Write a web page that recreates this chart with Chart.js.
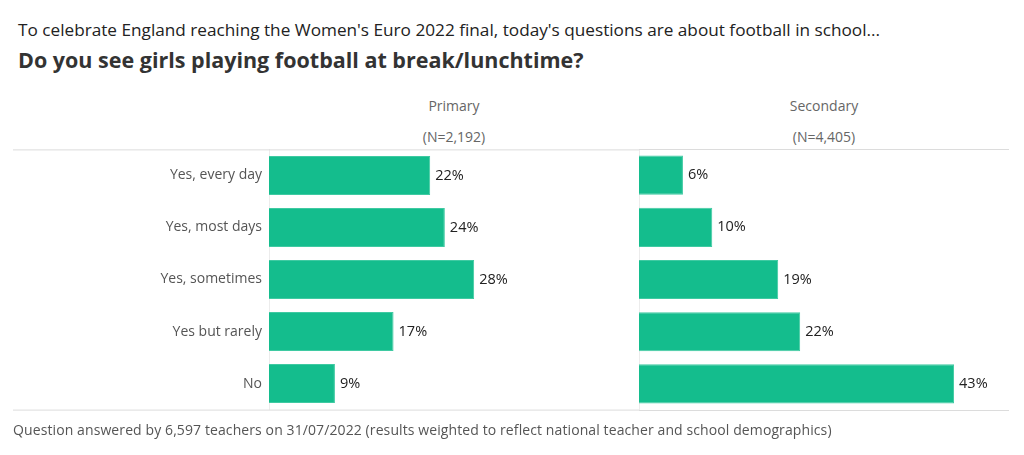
<!DOCTYPE html>
<html>
<head>
<meta charset="utf-8">
<script src="https://cdn.jsdelivr.net/npm/chart.js@4.4.1/dist/chart.umd.min.js"></script>
<style>
  body { margin: 0; background: #fff; font-family: "Open Sans", sans-serif; }
  #wrap { position: relative; width: 1024px; height: 455px; overflow: hidden; }
  .txt { position: absolute; white-space: nowrap; }
  #t1 { left: 18px; top: 18px; font-size: 17.2px; color: #222; }
  #t2 { left: 18px; top: 45px; font-size: 21.5px; font-weight: bold; color: #333; }
  .hdr { font-size: 14px; color: #666; transform: translateX(-50%); }
  #foot { left: 13px; top: 420px; font-size: 14px; color: #555; letter-spacing: 0.1px; }
  canvas { position: absolute; }
</style>
</head>
<body>
<div id="wrap">
  <div class="txt" id="t1">To celebrate England reaching the Women's Euro 2022 final, today's questions are about football in school...</div>
  <div class="txt" id="t2">Do you see girls playing football at break/lunchtime?</div>
  <div class="txt hdr" style="left:454px; top:96px;">Primary</div>
  <div class="txt hdr" style="left:454px; top:127px;">(N=2,192)</div>
  <div class="txt hdr" style="left:824px; top:96px;">Secondary</div>
  <div class="txt hdr" style="left:824px; top:127px;">(N=4,405)</div>
  <canvas id="primary" style="left:13px; top:134px;"></canvas>
  <canvas id="secondary" style="left:639px; top:145px;"></canvas>
  <div class="txt" id="foot">Question answered by 6,597 teachers on 31/07/2022 (results weighted to reflect national teacher and school demographics)</div>
</div>
<script>
const answers = ['Yes, every day', 'Yes, most days', 'Yes, sometimes', 'Yes but rarely', 'No'];
const primaryPct = [22, 24, 28, 17, 9];
const secondaryPct = [6, 10, 19, 22, 43];

const barColor = '#14bd8d';
const lineColor = '#dcdcdc';

// value labels at bar ends + horizontal rules at top/bottom of plot
const endLabels = {
    id: 'endLabels',
    afterDatasetsDraw(chart) {
        const ctx = chart.ctx;
        const meta = chart.getDatasetMeta(0);
        ctx.save();
        ctx.font = '14.5px "Open Sans", sans-serif';
        ctx.fillStyle = '#222';
        ctx.textBaseline = 'middle';
        meta.data.forEach((bar, i) => {
            ctx.fillText(chart.data.datasets[0].data[i] + '%', bar.x + 5, bar.y);
        });
        const a = chart.chartArea;
        ctx.strokeStyle = lineColor;
        ctx.lineWidth = 1;
        ctx.beginPath();
        ctx.moveTo(0, a.top + 0.5);
        ctx.lineTo(chart.width, a.top + 0.5);
        ctx.moveTo(0, a.bottom + 0.5);
        ctx.lineTo(chart.width, a.bottom + 0.5);
        ctx.stroke();
        ctx.restore();
    }
};

function makeChart(id, values, width, height, labelWidth) {
    const cv = document.getElementById(id);
    cv.width = width;
    cv.height = height;
    return new Chart(cv.getContext('2d'), {
        type: 'bar',
        data: {
            labels: answers,
            datasets: [{
                data: values,
                backgroundColor: barColor,
                borderColor: '#3fcaa2',
                borderWidth: 1,
                categoryPercentage: 1,
                barPercentage: 0.75
            }]
        },
        options: {
            indexAxis: 'y',
            responsive: false,
            animation: false,
            layout: { padding: { top: 4, bottom: 5, right: 0, left: 0 } },
            plugins: { legend: { display: false }, tooltip: { enabled: false } },
            scales: {
                x: { display: false, min: 0, max: 50.5 },
                y: {
                    grid: { color: 'rgba(0,0,0,0)', drawTicks: false },
                    border: { display: true, color: '#ececec' },
                    ticks: {
                        display: labelWidth > 0,
                        padding: 7,
                        color: '#555',
                        font: { family: '"Open Sans", sans-serif', size: 14 }
                    },
                    afterFit(scale) { scale.width = labelWidth; }
                }
            }
        },
        plugins: [endLabels]
    });
}

makeChart('primary', primaryPct, 626, 291, 256);
makeChart('secondary', secondaryPct, 370, 270, 0);
</script>
</body>
</html>
